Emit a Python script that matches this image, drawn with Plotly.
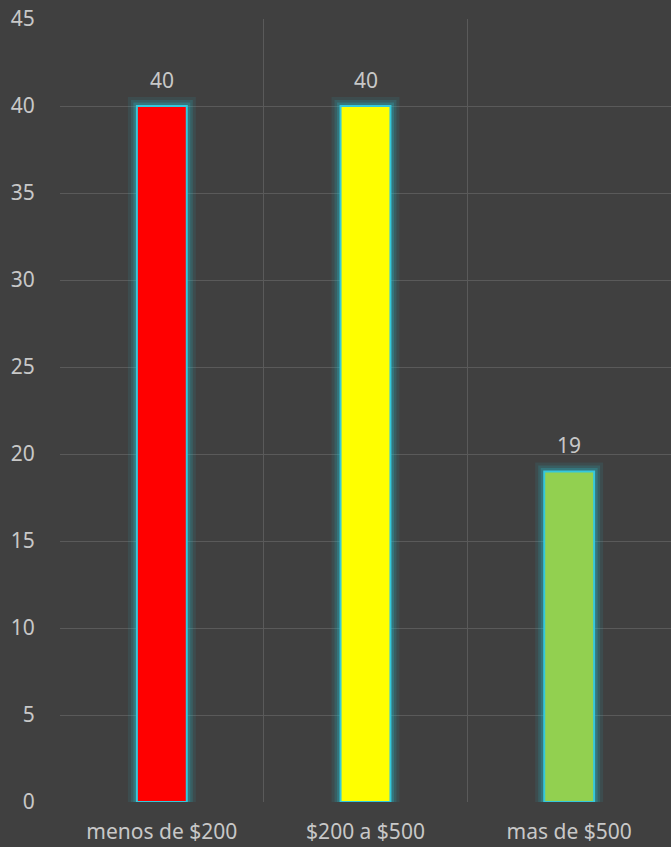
import plotly.graph_objects as go

categories = ["menos de $200", "$200 a $500", "mas de $500"]
values = [40, 40, 19]
bar_colors = ["#FF0000", "#FFFF00", "#92D050"]
y_ticks = [0, 5, 10, 15, 20, 25, 30, 35, 40, 45]

x_pos = list(range(len(categories)))
BW = 0.245
FONT = "Noto Sans"
TXT = "#C8C8C8"
FS = 21

fig = go.Figure()
# glow layers
for w, a in [(18, 0.10), (12, 0.16), (7, 0.26)]:
    fig.add_trace(go.Bar(
        x=x_pos, y=values, width=BW,
        marker=dict(color="rgba(0,0,0,0)", line=dict(color=f"rgba(40,190,205,{a})", width=w)),
        hoverinfo="skip", showlegend=False,
    ))
fig.add_trace(go.Bar(
    x=x_pos, y=values, width=BW,
    marker=dict(color=bar_colors, line=dict(color="#35C8DC", width=2)),
    showlegend=False,
))
for xp, v in zip(x_pos, values):
    fig.add_annotation(x=xp, y=v, text=str(v), showarrow=False, yanchor="bottom",
                       yshift=10, font=dict(family=FONT, size=FS, color=TXT))

fig.update_layout(
    width=671, height=847,
    paper_bgcolor="#404040", plot_bgcolor="#404040",
    margin=dict(l=60, r=0, t=19, b=45),
    barmode="overlay",
    font=dict(family=FONT, size=FS, color=TXT),
    xaxis=dict(
        range=[-0.5, 2.5], tickvals=x_pos, ticktext=categories,
        showgrid=False, zeroline=False, showline=False,
        ticks="outside", ticklen=11, tickcolor="rgba(0,0,0,0)",
        tickfont=dict(family=FONT, size=FS, color=TXT),
        minor=dict(tick0=-0.5, dtick=1, showgrid=True, gridcolor="#5A5A5A", gridwidth=1),
    ),
    yaxis=dict(
        range=[0, 45], tickvals=y_ticks,
        showgrid=True, gridcolor="#5A5A5A", gridwidth=1,
        zeroline=False, showline=False,
        ticks="outside", ticklen=20, tickcolor="rgba(0,0,0,0)",
        tickfont=dict(family=FONT, size=FS, color=TXT),
    ),
)

fig.write_html("out.html", config={"displayModeBar": False},
               post_script="document.body.style.margin='0';document.body.style.background='#404040';")
